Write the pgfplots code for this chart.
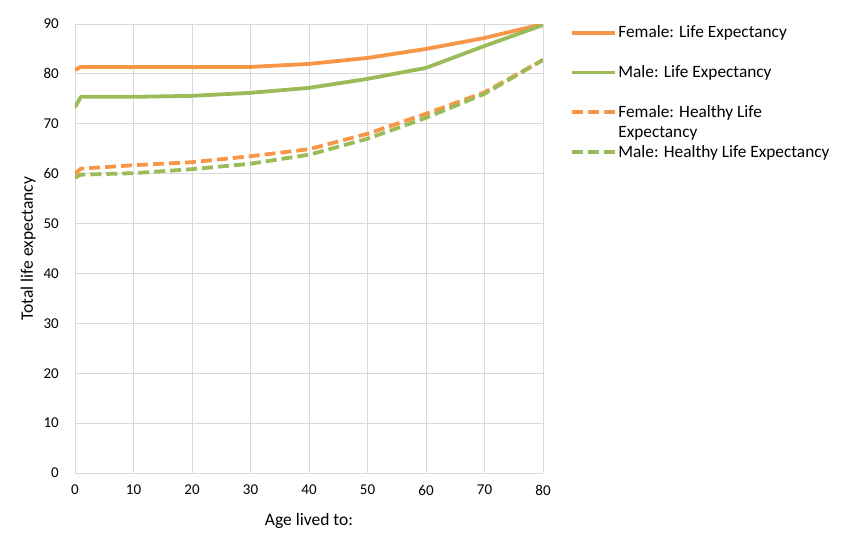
\documentclass[border=0pt]{standalone}
\usepackage{fontspec}
\setmainfont{Carlito}
\usepackage{pgfplots}
\pgfplotsset{compat=1.18}

\definecolor{femaleorange}{HTML}{F79646}
\definecolor{malegreen}{HTML}{9BBB59}
\definecolor{gridgray}{HTML}{D9D9D9}

\begin{document}
\begin{tikzpicture}
\useasboundingbox (-75pt,-74pt) rectangle (784pt,473pt);
\begin{axis}[
    at={(0,0)}, anchor=south west,
    scale only axis, width=468pt, height=449pt,
    xmin=0, xmax=80, ymin=0, ymax=90,
    xtick distance=10, ytick distance=10,
    axis line style={draw=none},
    major tick length=0pt,
    grid=major,
    major grid style={gridgray, line width=0.8pt},
    font=\fontsize{15}{18}\selectfont,
    /pgf/number format/assume math mode=true,
    yticklabel style={inner sep=0pt, xshift=-16pt},
    xticklabel style={inner sep=0pt, yshift=-12pt},
    xlabel={Age lived to:},
    ylabel={Total life expectancy},
    label style={font=\fontsize{17.5}{20}\selectfont},
    xlabel style={at={(axis description cs:0.5,-0.106)}, anchor=center},
    ylabel style={at={(axis description cs:-0.100,0.5)}, anchor=center},
    legend style={at={(axis description cs:1.05,1.005)}, anchor=north west,
        draw=none, fill=none, row sep=22.3pt,
        font=\fontsize{17.3}{20}\selectfont,
        cells={anchor=west}},
    legend image code/.code={\draw[#1] (0pt,0pt) -- (43pt,0pt);},
    every axis plot/.append style={line width=3.8pt, line join=round},
]
\addplot[femaleorange] coordinates {
 (0,80.8) (1,81.4) (10,81.4) (20,81.4) (30,81.4) (40,82.0) (50,83.2) (60,85.0) (70,87.2) (80,90.0)};
\addlegendentry{Female: Life Expectancy}
\addplot[malegreen] coordinates {
 (0,73.3) (1,75.4) (10,75.4) (20,75.6) (30,76.2) (40,77.2) (50,79.0) (60,81.2) (70,85.6) (80,89.8)};
\addlegendentry{Male: Life Expectancy}
\addplot[femaleorange, dash pattern=on 11pt off 5pt] coordinates {
 (0,60.0) (1,61.0) (10,61.7) (20,62.3) (30,63.5) (40,64.9) (50,68.0) (60,72.0) (70,76.3) (80,82.8)};
\addlegendentry{\makebox[0pt][l]{\raisebox{-20pt}[0pt][0pt]{Expectancy}}Female: Healthy Life}
\addplot[malegreen, dash pattern=on 11pt off 5pt] coordinates {
 (0,59.2) (1,59.8) (10,60.1) (20,60.9) (30,62.0) (40,63.8) (50,67.0) (60,71.2) (70,76.0) (80,82.8)};
\addlegendentry{Male: Healthy Life Expectancy}
\end{axis}
\end{tikzpicture}
\end{document}
